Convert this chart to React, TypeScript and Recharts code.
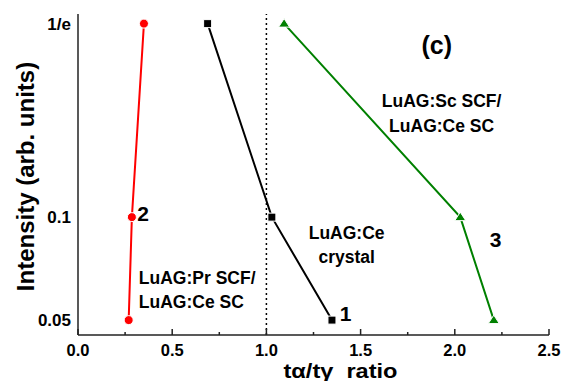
import React from "react";
import {
  LineChart,
  Line,
  XAxis,
  YAxis,
  ReferenceLine,
  ReferenceDot,
} from "recharts";

// intensity levels shared by every curve (1/e, 0.1, 0.05)
const intensities = [1 / Math.E, 0.1, 0.05];

// tα/tγ ratio read at each level
const ratiosCrystal = [0.688, 1.029, 1.348]; // curve 1
const ratiosPrScf = [0.35, 0.286, 0.269]; // curve 2
const ratiosScScf = [1.094, 2.029, 2.207]; // curve 3

const xTicks = [0, 0.25, 0.5, 0.75, 1, 1.25, 1.5, 1.75, 2, 2.25, 2.5];
const yTicks = [0.05, 0.1, 1 / Math.E];
const yTickLabels = ["0.05", "0.1", "1/e"];

const notes = [
  { x: 1.904, y: 0.3185, text: "(c)", size: 25, anchor: "middle" },
  { x: 1.93, y: 0.2185, text: "LuAG:Sc SCF/", size: 17.5, anchor: "middle" },
  { x: 1.93, y: 0.1847, text: "LuAG:Ce SC", size: 17.5, anchor: "middle" },
  { x: 2.216, y: 0.0863, text: "3", size: 21, anchor: "middle" },
  { x: 1.426, y: 0.0899, text: "LuAG:Ce", size: 17.5, anchor: "middle" },
  { x: 1.426, y: 0.0765, text: "crystal", size: 17.5, anchor: "middle" },
  { x: 1.421, y: 0.0521, text: "1", size: 21, anchor: "middle" },
  { x: 0.345, y: 0.1028, text: "2", size: 21, anchor: "middle" },
  { x: 0.323, y: 0.0664, text: "LuAG:Pr SCF/", size: 17.5, anchor: "start" },
  { x: 0.323, y: 0.0565, text: "LuAG:Ce SC", size: 17.5, anchor: "start" },
];

const toRows = (ratios: number[]) =>
  ratios.map((ratio, i) => ({ ratio, intensity: intensities[i] }));

const crystalData = toRows(ratiosCrystal);
const prData = toRows(ratiosPrScf);
const scData = toRows(ratiosScScf);

const FONT = "'Liberation Sans', Arial, sans-serif";

const XTick = (props: any) => {
  const { x, y, payload } = props;
  const v = payload.value as number;
  const major = Math.abs(v * 2 - Math.round(v * 2)) < 1e-6;
  return (
    <g>
      <line
        x1={x}
        x2={x}
        y1={y}
        y2={y - (major ? 6 : 3)}
        stroke="#222"
        strokeWidth={1.5}
      />
      {major && (
        <text
          x={x}
          y={y + 15}
          textAnchor="middle"
          dominantBaseline="central"
          fontFamily={FONT}
          fontWeight={700}
          fontSize={16.5}
          fill="#000"
        >
          {v.toFixed(1)}
        </text>
      )}
    </g>
  );
};

const circleDot = (p: any) => (
  <circle
    key={`c-${p.index}`}
    cx={p.cx}
    cy={p.cy}
    r={4.5}
    fill="#ff0000"
    stroke="#fff"
    strokeWidth={1}
  />
);

const squareDot = (p: any) => (
  <rect
    key={`s-${p.index}`}
    x={p.cx - 4}
    y={p.cy - 4}
    width={8}
    height={8}
    fill="#000"
    stroke="#fff"
    strokeWidth={1}
  />
);

const triangleDot = (p: any) => (
  <path
    key={`t-${p.index}`}
    d={`M${p.cx},${p.cy - 5} L${p.cx + 5.5},${p.cy + 3.5} L${p.cx - 5.5},${p.cy + 3.5} Z`}
    fill="#008000"
    stroke="#fff"
    strokeWidth={1}
  />
);

export default function App() {
  return (
    <div style={{ position: "absolute", left: 0, top: 0, background: "#fff" }}>
      <LineChart
        width={565}
        height={381}
        margin={{ top: 14, right: 16, bottom: 0, left: 0 }}
      >
        <XAxis
          dataKey="ratio"
          type="number"
          domain={[0, 2.5]}
          ticks={xTicks}
          interval={0}
          height={46}
          tickSize={0}
          tickMargin={0}
          tick={<XTick />}
          stroke="#222"
          strokeWidth={1.5}
          allowDataOverflow
          label={(lp: any) => {
            const vb = lp.viewBox;
            return (
              <text
                x={vb.x + vb.width / 2 + 27}
                y={378}
                textAnchor="middle"
                textLength={114}
                lengthAdjust="spacingAndGlyphs"
                fontFamily={FONT}
                fontWeight={700}
                fontSize={20}
                fill="#000"
              >
                {"tα/tγ\u00A0\u00A0ratio"}
              </text>
            );
          }}
        />
        <YAxis
          dataKey="intensity"
          type="number"
          scale="log"
          domain={[0.04523, 0.3925]}
          allowDataOverflow
          ticks={yTicks}
          interval={0}
          width={78}
          tickLine={false}
          tickSize={0}
          tickMargin={7}
          tickFormatter={(v: number) => {
            const i = yTicks.findIndex((t) => Math.abs(t - v) < 1e-6);
            return i >= 0 ? yTickLabels[i] : "";
          }}
          tick={{
            fontFamily: FONT,
            fontWeight: 700,
            fontSize: 17,
            fill: "#000",
          }}
          stroke="#222"
          strokeWidth={1.5}
          label={(lp: any) => {
            const vb = lp.viewBox;
            const cx = 25;
            const cy = vb.y + vb.height / 2 + 2;
            return (
              <text
                x={cx}
                y={cy}
                transform={`rotate(-90 ${cx} ${cy})`}
                textAnchor="middle"
                dominantBaseline="central"
                fontFamily={FONT}
                fontWeight={700}
                fontSize={24}
                fill="#000"
              >
                Intensity (arb. units)
              </text>
            );
          }}
        />
        <ReferenceLine
          x={1}
          stroke="#000"
          strokeWidth={1.5}
          strokeDasharray="2 3"
        />
        <Line
          data={prData}
          dataKey="intensity"
          stroke="#ff0000"
          strokeWidth={2}
          dot={circleDot}
          isAnimationActive={false}
        />
        <Line
          data={crystalData}
          dataKey="intensity"
          stroke="#000"
          strokeWidth={2}
          dot={squareDot}
          isAnimationActive={false}
        />
        <Line
          data={scData}
          dataKey="intensity"
          stroke="#008000"
          strokeWidth={2}
          dot={triangleDot}
          isAnimationActive={false}
        />
        {notes.map((n, i) => (
          <ReferenceDot
            key={i}
            x={n.x}
            y={n.y}
            r={0}
            shape={(p: any) => (
              <text
                x={p.cx}
                y={p.cy}
                textAnchor={n.anchor as any}
                dominantBaseline="central"
                fontFamily={FONT}
                fontWeight={700}
                fontSize={n.size}
                fill="#000"
              >
                {n.text}
              </text>
            )}
          />
        ))}
      </LineChart>
    </div>
  );
}
